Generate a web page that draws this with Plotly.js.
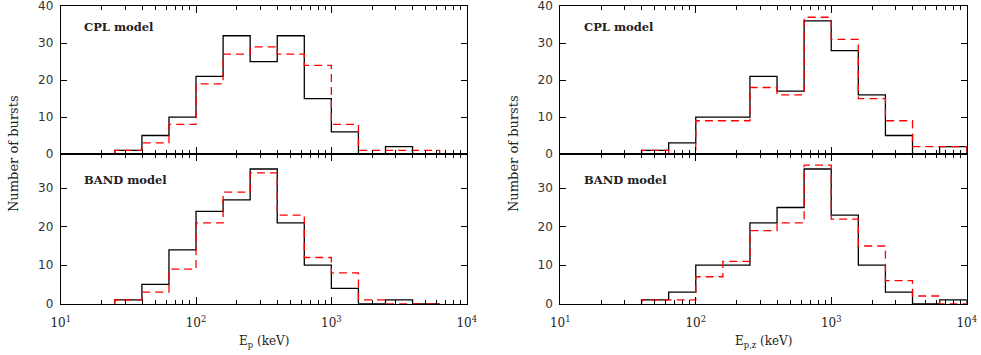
<!DOCTYPE html>
<html><head><meta charset="utf-8">
<script src="https://cdn.plot.ly/plotly-3.0.1.min.js"></script>
<style>html,body{margin:0;padding:0;background:#fff}#c{width:981px;height:355px}</style>
</head><body><div id="c"></div>
<script>
// bin edges as log10(E / keV)
const edgesLeft  = [1.4,1.6,1.8,2.0,2.2,2.4,2.6,2.8,3.0,3.2,3.4,3.6,3.8];
const edgesRight = [1.6,1.8,2.0,2.2,2.4,2.6,2.8,3.0,3.2,3.4,3.6,3.8,4.0];
// counts per bin
const leftCplBlack  = [1,5,10,21,32,25,32,15,6,0,2,0];
const leftCplRed    = [1,3,8,19,27,29,27,24,8,1,1,1];
const leftBandBlack = [1,5,14,24,27,35,21,10,4,0,1,0];
const leftBandRed   = [1,3,9,21,29,34,23,12,8,1,0,0];
const rightCplBlack  = [1,3,10,10,21,17,36,28,16,5,0,2];
const rightCplRed    = [1,0,9,9,18,16,37,31,15,9,2,2];
const rightBandBlack = [1,3,10,10,21,25,35,23,10,3,0,1];
const rightBandRed   = [1,1,7,11,19,21,36,22,15,6,2,0];
const xTickVals = [10,100,1000,10000];
const xTickText = ['10<sup>1</sup>','10<sup>2</sup>','10<sup>3</sup>','10<sup>4</sup>'];
const yTickTop = [0,10,20,30,40];
const yTickBot = [0,10,20,30];

function stepPath(edges, counts){
  const xs=[Math.pow(10,edges[0])], ys=[0];
  for(let i=0;i<counts.length;i++){
    xs.push(Math.pow(10,edges[i])); ys.push(counts[i]);
    xs.push(Math.pow(10,edges[i+1])); ys.push(counts[i]);
  }
  xs.push(Math.pow(10,edges[counts.length])); ys.push(0);
  return {xs, ys};
}
function tr(edges, counts, red, xa, ya){
  const p = stepPath(edges, counts);
  return {x:p.xs, y:p.ys, xaxis:xa, yaxis:ya, type:'scatter', mode:'lines',
    line: red ? {color:'#ff0000', width:1.3, dash:'8px,5px'} : {color:'#000', width:1.3},
    hoverinfo:'skip', showlegend:false};
}
const data = [
  tr(edgesLeft, leftCplBlack, false, 'x', 'y'),
  tr(edgesLeft, leftCplRed, true, 'x', 'y'),
  tr(edgesLeft, leftBandBlack, false, 'x2', 'y2'),
  tr(edgesLeft, leftBandRed, true, 'x2', 'y2'),
  tr(edgesRight, rightCplBlack, false, 'x3', 'y3'),
  tr(edgesRight, rightCplRed, true, 'x3', 'y3'),
  tr(edgesRight, rightBandBlack, false, 'x4', 'y4'),
  tr(edgesRight, rightBandRed, true, 'x4', 'y4')
];

const minorVals=[];
for(const d of [10,100,1000]) for(let k=2;k<=9;k++) minorVals.push(k*d);

const W=981,H=355;
const lx=[60.7/W, 466.7/W], rx=[560.3/W, 966.7/W];
const topY=[1-154/H, 1-6/H], botY=[1-303.7/H, 1-154/H];

function xax(dom, anchor, labels){
  return {type:'log', domain:dom, anchor:anchor, range:[1,4],
    tickmode:'array', tickvals:xTickVals, ticktext:xTickText,
    showticklabels:labels, ticks:'inside', ticklen:7, tickwidth:1, tickcolor:'#000',
    ticklabelstandoff:8, ticklabeloverflow:'allow',
    minor:{tickmode:'array', tickvals:minorVals, ticks:'inside', ticklen:4, tickwidth:1, tickcolor:'#000'},
    showline:true, linecolor:'#000', linewidth:1, mirror:'allticks', showgrid:false, zeroline:false,
    tickfont:{family:'DejaVu Serif', size:12, color:'#222'}, fixedrange:true};
}
function yax(dom, anchor, rng, vals){
  return {domain:dom, anchor:anchor, range:rng, tickmode:'array', tickvals:vals,
    ticks:'inside', ticklen:6, tickwidth:1, tickcolor:'#000', ticklabelstandoff:4, ticklabeloverflow:'allow',
    showline:true, linecolor:'#000', linewidth:1, mirror:'allticks', showgrid:false, zeroline:false,
    tickfont:{family:'DejaVu Sans', size:12, color:'#333'}, fixedrange:true};
}
const serif = {family:'DejaVu Serif', size:12, color:'#222'};
function ann(text, x, y, extra){
  return Object.assign({text, x:x/W, y:1-y/H, xref:'paper', yref:'paper', showarrow:false, font:serif,
    xanchor:'center', yanchor:'middle'}, extra||{});
}
const bold = {family:'DejaVu Serif', size:11.5, color:'#222'};
const layout = {
  width:W, height:H, margin:{l:0,r:0,t:0,b:0}, paper_bgcolor:'#fff', plot_bgcolor:'#fff', showlegend:false,
  xaxis: xax(lx,'y',false), yaxis: yax(topY,'x',[0,40.05],yTickTop),
  xaxis2: xax(lx,'y2',true), yaxis2: yax(botY,'x2',[0,38.9],yTickBot),
  xaxis3: xax(rx,'y3',false), yaxis3: yax(topY,'x3',[0,40.05],yTickTop),
  xaxis4: xax(rx,'y4',true), yaxis4: yax(botY,'x4',[0,38.9],yTickBot),
  annotations: [
    ann('<b>CPL model</b>', 82, 27, {xanchor:'left', font:bold}),
    ann('<b>BAND model</b>', 82, 180, {xanchor:'left', font:bold}),
    ann('<b>CPL model</b>', 582, 27, {xanchor:'left', font:bold}),
    ann('<b>BAND model</b>', 582, 180, {xanchor:'left', font:bold}),
    ann('Number of bursts', 13, 154, {textangle:-90, font:{family:'DejaVu Serif', size:13, color:'#222'}}),
    ann('Number of bursts', 513, 154, {textangle:-90, font:{family:'DejaVu Serif', size:13, color:'#222'}}),
    ann('E<sub>p</sub> (keV)', 264, 342),
    ann('E<sub>p,z</sub> (keV)', 763, 342)
  ]
};
Plotly.newPlot('c', data, layout, {displayModeBar:false, staticPlot:true});
</script></body></html>
